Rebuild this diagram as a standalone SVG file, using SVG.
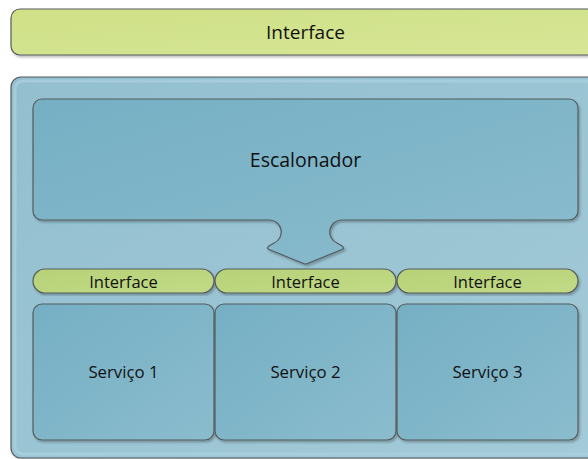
<svg xmlns="http://www.w3.org/2000/svg" width="588" height="459" viewBox="0 0 588 459">
  <defs>
    <filter id="sh" x="-5%" y="-5%" width="110%" height="115%">
      <feDropShadow dx="1.5" dy="2" stdDeviation="1.2" flood-color="#000" flood-opacity="0.25"/>
    </filter>
    <linearGradient id="gGreen" x1="0" y1="0" x2="1" y2="1">
      <stop offset="0" stop-color="#cfe087"/>
      <stop offset="1" stop-color="#d6e696"/>
    </linearGradient>
    <linearGradient id="gPill" x1="0" y1="0" x2="1" y2="1">
      <stop offset="0" stop-color="#b6d277"/>
      <stop offset="1" stop-color="#c2da86"/>
    </linearGradient>
    <linearGradient id="gOuter" x1="0" y1="0" x2="1" y2="1">
      <stop offset="0" stop-color="#93bfcf"/>
      <stop offset="1" stop-color="#a3cad8"/>
    </linearGradient>
    <linearGradient id="gInner" x1="0" y1="0" x2="1" y2="1">
      <stop offset="0" stop-color="#76afc4"/>
      <stop offset="1" stop-color="#8abccd"/>
    </linearGradient>
    <style>
      .ln { stroke: #555a5c; stroke-width: 1.2; }
      .t { font-family: "Open Sans", "Liberation Sans", sans-serif; fill: #111; text-anchor: middle; }
    </style>
  </defs>

  <g id="top-interface">
    <rect x="11" y="9" width="600" height="46" rx="9" fill="url(#gGreen)" class="ln" filter="url(#sh)"/>
    <text class="t" x="305.5" y="39" font-size="19">Interface</text>
  </g>

  <g id="container">
    <rect x="11" y="77" width="600" height="381" rx="10" fill="url(#gOuter)" class="ln" filter="url(#sh)"/>
    <rect x="15" y="81" width="600" height="373" rx="8" fill="none" stroke="#abd2df" stroke-width="3" opacity="0.7"/>
  </g>

  <g id="escalonador">
    <path d="M 42 99 H 569 A 9 9 0 0 1 578 108 V 211 A 9 9 0 0 1 569 220 H 341 A 12 12 0 0 0 337 243 L 342 246 Q 345 248 342 249.5 L 307.5 263.5 Q 305.5 264.5 303.5 263.5 L 269 249.5 Q 266 248 269 246 L 274 243 A 12 12 0 0 0 270 220 H 42 A 9 9 0 0 1 33 211 V 108 A 9 9 0 0 1 42 99 Z" fill="url(#gInner)" class="ln" filter="url(#sh)"/>
    <text class="t" x="305.5" y="166.5" font-size="19.5">Escalonador</text>
  </g>

  <g id="interface-1">
    <rect x="33" y="269" width="181" height="24" rx="12" fill="url(#gPill)" class="ln" filter="url(#sh)"/>
    <text class="t" x="123.5" y="288" font-size="16.5">Interface</text>
  </g>
  <g id="interface-2">
    <rect x="215" y="269" width="181" height="24" rx="12" fill="url(#gPill)" class="ln" filter="url(#sh)"/>
    <text class="t" x="305.5" y="288" font-size="16.5">Interface</text>
  </g>
  <g id="interface-3">
    <rect x="397" y="269" width="181" height="24" rx="12" fill="url(#gPill)" class="ln" filter="url(#sh)"/>
    <text class="t" x="487.5" y="288" font-size="16.5">Interface</text>
  </g>

  <g id="servico-1">
    <rect x="33" y="304" width="181" height="136" rx="9" fill="url(#gInner)" class="ln" filter="url(#sh)"/>
    <text class="t" x="123.5" y="378" font-size="16.8">Serviço 1</text>
  </g>
  <g id="servico-2">
    <rect x="215" y="304" width="181" height="136" rx="9" fill="url(#gInner)" class="ln" filter="url(#sh)"/>
    <text class="t" x="305.5" y="378" font-size="16.8">Serviço 2</text>
  </g>
  <g id="servico-3">
    <rect x="397" y="304" width="181" height="136" rx="9" fill="url(#gInner)" class="ln" filter="url(#sh)"/>
    <text class="t" x="487.5" y="378" font-size="16.8">Serviço 3</text>
  </g>

  <g id="connectors"></g>
</svg>
